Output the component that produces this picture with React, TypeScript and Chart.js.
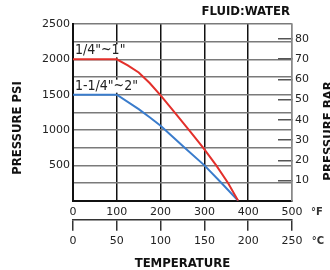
import React, { useEffect, useRef } from 'react';
import { Chart, registerables } from 'chart.js';

Chart.register(...registerables);

// ---- data ----
const redTempF = [0, 100, 125, 150, 175, 200, 232, 265, 297, 327, 354, 377];
const redPsi = [2000, 2000, 1915, 1815, 1665, 1490, 1250, 1000, 750, 500, 250, 0];
const blueTempF = [0, 100, 150, 175, 200, 225, 255, 300, 339, 377];
const bluePsi = [1500, 1500, 1295, 1180, 1060, 920, 750, 500, 250, 0];
const redLabel = '1/4"~1"';
const blueLabel = '1-1/4"~2"';
const fluidTitle = 'FLUID:WATER';
const psiTitle = 'PRESSURE PSI';
const barTitle = 'PRESSURE BAR';
const tempTitle = 'TEMPERATURE';
const unitF = '°F';
const unitC = '°C';

const TICK_FONT = { family: "'DejaVu Sans', sans-serif", size: 11 };
const BOLD_FAMILY = "'Liberation Sans Narrow', 'DejaVu Sans Condensed', 'Liberation Sans', sans-serif";
const NARROW_FAMILY = "'Liberation Sans Narrow', 'DejaVu Sans Condensed', 'Liberation Sans', sans-serif";

const textPlugin = {
  id: 'textPlugin',
  afterDatasetsDraw(chart: any) {
    const { ctx, scales } = chart;
    const xs = scales.x;
    const ys = scales.y;
    ctx.save();
    ctx.font = `14px ${NARROW_FAMILY}`;
    ctx.textBaseline = 'middle';
    ctx.textAlign = 'left';
    const drawLabel = (text: string, psi: number) => {
      const x = xs.getPixelForValue(0) + 2;
      const y = ys.getPixelForValue(psi) - 8.5;
      const w = ctx.measureText(text).width;
      ctx.fillStyle = '#ffffff';
      ctx.fillRect(x - 1, y - 6.5, w + 3, 13);
      ctx.fillStyle = '#222';
      ctx.fillText(text, x, y);
    };
    drawLabel(redLabel, redPsi[0]);
    drawLabel(blueLabel, bluePsi[0]);
    ctx.restore();
  },
  afterDraw(chart: any) {
    const { ctx, chartArea } = chart;
    ctx.save();
    ctx.fillStyle = '#111';
    ctx.font = `bold 13px ${BOLD_FAMILY}`;
    ctx.textBaseline = 'middle';
    ctx.textAlign = 'right';
    ctx.fillText(fluidTitle, chartArea.right - 2, 12);
    ctx.save();
    ctx.translate(18, 128);
    ctx.rotate(-Math.PI / 2);
    ctx.textAlign = 'center';
    ctx.fillText(psiTitle, 0, 0);
    ctx.restore();
    ctx.save();
    ctx.translate(329, 131);
    ctx.rotate(-Math.PI / 2);
    ctx.textAlign = 'center';
    ctx.fillText(barTitle, 0, 0);
    ctx.restore();
    ctx.font = `bold 10px ${TICK_FONT.family}`;
    ctx.fillStyle = '#333';
    ctx.textAlign = 'center';
    ctx.fillText(unitF, 317, 212);
    ctx.fillText(unitC, 318, 241);
    ctx.restore();
  },
};

export default function App() {
  const ref = useRef<HTMLCanvasElement | null>(null);
  useEffect(() => {
    if (!ref.current) return;
    const chart = new Chart(ref.current, {
      type: 'line',
      data: {
        datasets: [
          {
            label: redLabel,
            data: redTempF.map((t, i) => ({ x: t, y: redPsi[i] })),
            borderColor: '#e3302b',
            borderWidth: 2,
            pointRadius: 0,
            tension: 0,
            xAxisID: 'x',
            yAxisID: 'y',
          },
          {
            label: blueLabel,
            data: blueTempF.map((t, i) => ({ x: t, y: bluePsi[i] })),
            borderColor: '#3a7ccc',
            borderWidth: 2,
            pointRadius: 0,
            tension: 0,
            xAxisID: 'x',
            yAxisID: 'y',
          },
        ],
      },
      options: {
        animation: false,
        responsive: false,
        layout: { padding: { top: 24, left: 0, right: 0, bottom: 0 } },
        plugins: { legend: { display: false }, tooltip: { enabled: false } },
        scales: {
          x: {
            type: 'linear',
            position: 'bottom',
            weight: 0,
            min: 0,
            max: 500,
            ticks: { stepSize: 100, padding: 5, font: TICK_FONT, color: '#222', maxRotation: 0, autoSkip: false },
            grid: {
              color: (c: any) => (c.tick && c.tick.value === 500 ? '#888' : '#111'),
              lineWidth: 1.5,
              drawTicks: false,
            },
            border: { display: true, color: '#111', width: 2 },
            afterFit: (s: any) => { s.height = 18.6; },
          },
          x2: {
            type: 'linear',
            position: 'bottom',
            weight: 1,
            min: 0,
            max: 250,
            ticks: { stepSize: 50, padding: 4, font: TICK_FONT, color: '#222', maxRotation: 0, autoSkip: false },
            grid: { drawOnChartArea: false, drawTicks: true, tickLength: 11.5, color: '#333', lineWidth: 1.5 },
            border: { display: true, color: '#333', width: 1.5 },
            title: {
              display: true,
              text: tempTitle,
              color: '#111',
              padding: 0,
              font: { family: BOLD_FAMILY, size: 13, weight: 'bold', lineHeight: 1 },
            },
            afterFit: (s: any) => { s.height = 50.7; },
          },
          y: {
            type: 'linear',
            position: 'left',
            min: 0,
            max: 2500,
            ticks: {
              stepSize: 250,
              padding: 3,
              font: TICK_FONT,
              color: '#222',
              autoSkip: false,
              callback: (v: any) => (v % 500 === 0 && v !== 0 ? String(v) : ''),
            },
            grid: { color: '#7a7a7a', lineWidth: 1.5, drawTicks: false },
            border: { display: true, color: '#111', width: 2 },
            afterFit: (s: any) => { s.width = 73; },
          },
          y2: {
            type: 'linear',
            position: 'right',
            min: 0,
            max: 87.4,
            ticks: {
              stepSize: 10,
              padding: 17,
              includeBounds: false,
              font: TICK_FONT,
              color: '#222',
              autoSkip: false,
              callback: (v: any) => (v === 0 ? '' : String(v)),
            },
            grid: {
              drawOnChartArea: false,
              drawTicks: true,
              tickLength: -14,
              color: (c: any) => (c.tick && c.tick.value === 0 ? 'rgba(0,0,0,0)' : '#555'),
              lineWidth: 1.5,
            },
            border: { display: true, color: '#888', width: 1.5 },
            afterFit: (s: any) => { s.width = 38; },
          },
        },
      } as any,
      plugins: [textPlugin],
    });
    return () => chart.destroy();
  }, []);
  return (
    <div style={{ position: 'fixed', left: 0, top: 0, width: 330, height: 270, background: '#fff' }}>
      <canvas ref={ref} width={330} height={270} style={{ display: 'block' }} />
    </div>
  );
}
